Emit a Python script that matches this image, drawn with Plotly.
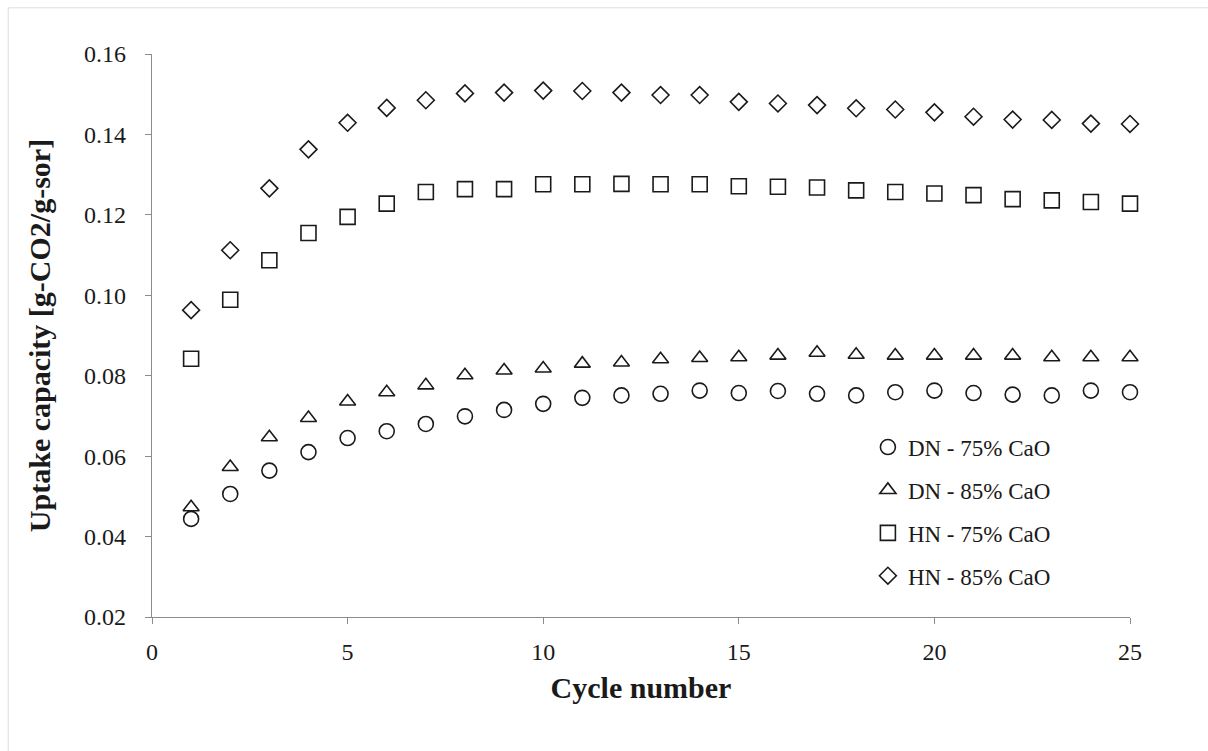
import plotly.graph_objects as go

cycles = list(range(1, 26))

dn_75 = [0.0444, 0.0506, 0.0564, 0.0610, 0.0645, 0.0662, 0.0680, 0.0699, 0.0715, 0.0730,
         0.0745, 0.0751, 0.0755, 0.0763, 0.0757, 0.0762, 0.0755, 0.0751, 0.0759, 0.0763,
         0.0757, 0.0753, 0.0751, 0.0763, 0.0759]
dn_85 = [0.0473, 0.0573, 0.0647, 0.0695, 0.0736, 0.0759, 0.0776, 0.0801, 0.0813, 0.0818,
         0.0830, 0.0833, 0.0841, 0.0844, 0.0846, 0.0850, 0.0857, 0.0852, 0.0850, 0.0850,
         0.0850, 0.0850, 0.0846, 0.0846, 0.0846]
hn_75 = [0.0842, 0.0989, 0.1087, 0.1155, 0.1195, 0.1228, 0.1257, 0.1264, 0.1264, 0.1276,
         0.1276, 0.1277, 0.1276, 0.1276, 0.1271, 0.1270, 0.1268, 0.1261, 0.1257, 0.1253,
         0.1249, 0.1239, 0.1236, 0.1232, 0.1228]
hn_85 = [0.0963, 0.1112, 0.1266, 0.1363, 0.1429, 0.1466, 0.1485, 0.1502, 0.1504, 0.1509,
         0.1508, 0.1504, 0.1498, 0.1498, 0.1481, 0.1477, 0.1473, 0.1465, 0.1462, 0.1455,
         0.1444, 0.1437, 0.1436, 0.1427, 0.1426]

series_names = ["DN - 75% CaO", "DN - 85% CaO", "HN - 75% CaO", "HN - 85% CaO"]
x_ticks = [0, 5, 10, 15, 20, 25]
y_ticks = [0.02, 0.04, 0.06, 0.08, 0.10, 0.12, 0.14, 0.16]

FONT = "Liberation Serif, Times New Roman, serif"
INK = "#1a1a1a"

specs = [
    (dn_75, "circle-open", 15),
    (dn_85, "triangle-up-open", 14),
    (hn_75, "square-open", 15),
    (hn_85, "diamond-open", 13),
]

fig = go.Figure()
for (vals, sym, size), name in zip(specs, series_names):
    fig.add_trace(go.Scatter(
        x=cycles, y=vals, mode="markers", name=name, legendgroup=name,
        cliponaxis=False,
        marker=dict(symbol=sym, size=size, color=INK, line=dict(color=INK, width=1.6)),
    ))

fig.update_layout(
    width=1208, height=751,
    margin=dict(l=152, r=78, t=54, b=134),
    paper_bgcolor="white", plot_bgcolor="white",
    font=dict(family=FONT, color=INK, size=22),
    showlegend=True,
    legend=dict(
        x=0.732, y=0.340, xanchor="left", yanchor="top",
        font=dict(family=FONT, size=23, color=INK),
        bgcolor="rgba(0,0,0,0)", tracegroupgap=10, itemwidth=30,
    ),
    xaxis=dict(
        range=[0, 25], tickvals=x_ticks, ticktext=[str(v) for v in x_ticks],
        showgrid=False, zeroline=False, showline=True, linecolor="#8c8c8c", linewidth=1.2,
        ticks="outside", ticklen=6, tickcolor="#8c8c8c", ticklabelstandoff=7,
        tickfont=dict(size=24, family=FONT, color=INK),
        title=dict(text="<b>Cycle number</b>", font=dict(size=30, family=FONT, color=INK), standoff=13),
    ),
    yaxis=dict(
        range=[0.02, 0.16], tickvals=y_ticks, ticktext=[f"{v:.2f}" for v in y_ticks],
        showgrid=False, zeroline=False, showline=True, linecolor="#8c8c8c", linewidth=1.2,
        ticks="outside", ticklen=6, tickcolor="#8c8c8c", ticklabelstandoff=14,
        tickfont=dict(size=24, family=FONT, color=INK),
        title=dict(text="<b>Uptake capacity [g-CO2/g-sor]</b>", font=dict(size=30, family=FONT, color=INK), standoff=24),
    ),
    shapes=[dict(type="rect", xref="paper", yref="paper",
                 x0=-0.147, x1=1.084, y0=-0.254, y1=1.082,
                 line=dict(color="#dddddd", width=1), fillcolor="rgba(0,0,0,0)", layer="below")],
)

fig.write_html("out.html")
